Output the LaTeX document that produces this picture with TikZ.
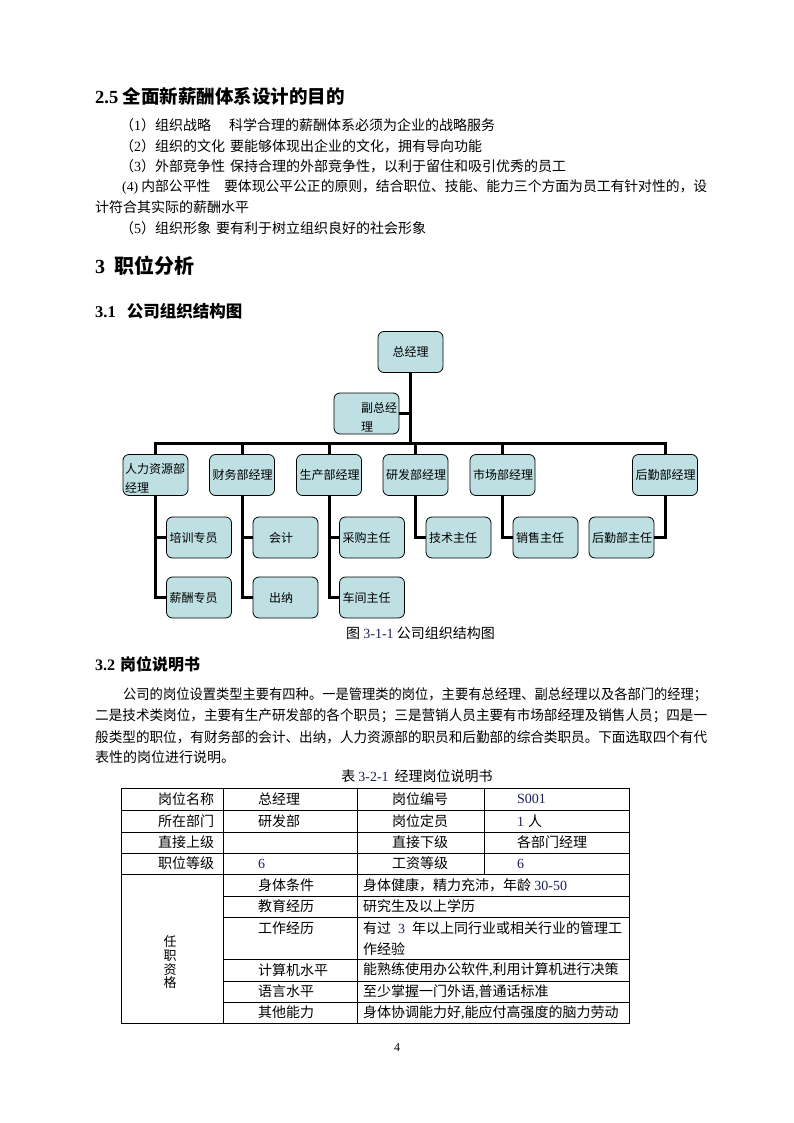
\documentclass[tikz,border=0pt]{standalone}
\usepackage{fontspec}
\usepackage{graphicx}
\setmainfont{Liberation Serif}
\newfontfamily\cjk{Noto Sans CJK SC}
\definecolor{boxfill}{RGB}{190,224,227}
\definecolor{numc}{RGB}{28,32,90}
\newcommand\fs[1]{\fontsize{#1}{#1}\selectfont}
\newcommand\tm[1]{{\rmfamily #1}}
\newcommand\nm[1]{{\rmfamily\color{numc}#1}}
\newcommand\fitw[2]{\resizebox{#1}{\height}{#2}}
\begin{document}
\begin{tikzpicture}[x=1pt,y=-1pt,
  txt/.style={anchor=west, inner sep=0pt, font=\cjk\fs{14}},
  orgbox/.style={draw, line width=0.8pt, fill=boxfill, rounded corners=6pt,
     minimum height=41pt, text width=59pt, inner xsep=3pt, inner ysep=0pt,
     align=left, font=\cjk\fs{12}},
  boxtxt/.style={anchor=west, inner sep=0pt, font=\cjk\fs{12}},
  conn/.style={line width=3pt, line join=miter},
  grid/.style={line width=0.8pt}]
\useasboundingbox (0,0) rectangle (794,1123);
\fill[white] (0,0) rectangle (794,1123);

% ---------- section 2.5 ----------
\node[txt, font=\cjk\bfseries\fs{18.5}] (h25) at (95,96) {\tm{\textbf{2.5}} 全面新薪酬体系设计的目的};
\node[txt] (p1) at (120,125) {（\tm{1}）组织战略\hspace{18pt}科学合理的薪酬体系必须为企业的战略服务};
\node[txt] (p2) at (120,146) {（\tm{2}）组织的文化\hspace{5pt}要能够体现出企业的文化，拥有导向功能};
\node[txt] (p3) at (120,166) {（\tm{3}）外部竞争性\hspace{5pt}保持合理的外部竞争性，以利于留住和吸引优秀的员工};
\node[txt] (p4) at (122,187) {\fitw{585pt}{\tm{(4)} 内部公平性\hspace{14pt}要体现公平公正的原则，结合职位、技能、能力三个方面为员工有针对性的，设}};
\node[txt] (p4b) at (95,207) {计符合其实际的薪酬水平};
\node[txt] (p5) at (120,228) {（\tm{5}）组织形象\hspace{5pt}要有利于树立组织良好的社会形象};

% ---------- section 3 ----------
\node[txt, font=\cjk\bfseries\fs{20}] (h3) at (95,266) {\tm{\textbf{3}}\hspace{9pt}职位分析};
\node[txt, font=\cjk\bfseries\fs{16.5}] (h31) at (95,311) {\tm{\textbf{3.1}}\hspace{11pt}公司组织结构图};

% ---------- org chart ----------
\node[orgbox, align=center] (zjl) at (410.5,352) {总经理};
\node[orgbox] (fz) at (366.5,413.5) {};
\node[boxtxt] (fzt1) at (361,408) {副总经};
\node[boxtxt] (fzt2) at (361,427) {理};

\node[orgbox] (rl) at (155.5,475) {};
\node[boxtxt] (rlt1) at (125,469) {人力资源部};
\node[boxtxt] (rlt2) at (125,488) {经理};
\node[orgbox] (cw) at (242,475) {财务部经理};
\node[orgbox] (sc) at (329,475) {生产部经理};
\node[orgbox] (yf) at (415.5,475) {研发部经理};
\node[orgbox] (scb) at (502.5,475) {市场部经理};
\node[orgbox] (hq) at (665,475) {后勤部经理};

\node[orgbox] (px) at (199,537.5) {培训专员};
\node[orgbox] (xc) at (199,597.5) {薪酬专员};
\node[orgbox] (kj) at (285.5,537.5) {\hspace*{13pt}会计};
\node[orgbox] (cn) at (285.5,597.5) {\hspace*{13pt}出纳};
\node[orgbox] (cg) at (372,537.5) {采购主任};
\node[orgbox] (cj) at (372,597.5) {车间主任};
\node[orgbox] (js) at (458.5,537.5) {技术主任};
\node[orgbox] (xs) at (545.5,537.5) {销售主任};
\node[orgbox] (hqz) at (621.5,537.5) {后勤部主任};

\coordinate (bus) at (410.5,443);
\draw[conn] (zjl.south) -- (bus);
\draw[conn] (fz.east) -- (fz.east -| bus);
\draw[conn] (rl.north) -- (rl.north |- bus) -- (hq.north |- bus) -- (hq.north);
\draw[conn] (cw.north) -- (cw.north |- bus);
\draw[conn] (sc.north) -- (sc.north |- bus);
\draw[conn] (yf.north) -- (yf.north |- bus);
\draw[conn] (scb.north) -- (scb.north |- bus);
\draw[conn] (rl.south) |- (px.west);
\draw[conn] (rl.south) |- (xc.west);
\draw[conn] (cw.south) |- (kj.west);
\draw[conn] (cw.south) |- (cn.west);
\draw[conn] (sc.south) |- (cg.west);
\draw[conn] (sc.south) |- (cj.west);
\draw[conn] (yf.south) |- (js.west);
\draw[conn] (scb.south) |- (xs.west);
\draw[conn] (hq.south) |- (hqz.east);

\node[txt] (cap1) at (346,633) {图 \nm{3-1-1} 公司组织结构图};

% ---------- section 3.2 ----------
\node[txt, font=\cjk\bfseries\fs{16}] (h32) at (95,664) {\tm{\textbf{3.2}}\hspace{5pt}岗位说明书};
\node[txt] (q1) at (123,695) {\fitw{584pt}{公司的岗位设置类型主要有四种。一是管理类的岗位，主要有总经理、副总经理以及各部门的经理；}};
\node[txt] (q2) at (95,716) {\fitw{612pt}{二是技术类岗位，主要有生产研发部的各个职员；三是营销人员主要有市场部经理及销售人员；四是一}};
\node[txt] (q3) at (95,737) {\fitw{612pt}{般类型的职位，有财务部的会计、出纳，人力资源部的职员和后勤部的综合类职员。下面选取四个有代}};
\node[txt] (q4) at (95,757) {表性的岗位进行说明。};

\node[txt, anchor=center] (cap2) at (417,776) {表 \nm{3-2-1}\hspace{6pt}经理岗位说明书};

% ---------- table ----------
\draw[grid] (121,788) rectangle (629,1023);
\foreach \yy in {810,832,853,874} \draw[grid] (121,\yy) -- (629,\yy);
\foreach \yy in {896,917,959,981,1002} \draw[grid] (223,\yy) -- (629,\yy);
\draw[grid] (223,788) -- (223,1023);
\draw[grid] (357,788) -- (357,1023);
\draw[grid] (484,788) -- (484,874);

\node[txt] (t11) at (158,799) {岗位名称};
\node[txt] (t12) at (258,799) {总经理};
\node[txt] (t13) at (392,799) {岗位编号};
\node[txt] (t14) at (517,799) {\nm{S001}};
\node[txt] (t21) at (158,821) {所在部门};
\node[txt] (t22) at (258,821) {研发部};
\node[txt] (t23) at (392,821) {岗位定员};
\node[txt] (t24) at (517,821) {\nm{1}\hspace{4pt}人};
\node[txt] (t31) at (158,842.5) {直接上级};
\node[txt] (t33) at (392,842.5) {直接下级};
\node[txt] (t34) at (517,842.5) {各部门经理};
\node[txt] (t41) at (158,863.5) {职位等级};
\node[txt] (t42) at (258,863.5) {\nm{6}};
\node[txt] (t43) at (392,863.5) {工资等级};
\node[txt] (t44) at (517,863.5) {\nm{6}};

\node[font=\cjk\fontsize{13}{13.7}\selectfont, align=center, inner sep=0pt] (rz) at (170,962.5) {任\\职\\资\\格};

\node[txt] (t52) at (258,885) {身体条件};
\node[txt] (t53) at (363,885) {身体健康，精力充沛，年龄 \nm{30-50}};
\node[txt] (t62) at (258,906.5) {教育经历};
\node[txt] (t63) at (363,906.5) {研究生及以上学历};
\node[txt] (t72) at (258,928) {工作经历};
\node[txt] (t73) at (363,928) {有过\hspace{7pt}\nm{3}\hspace{7pt}年以上同行业或相关行业的管理工};
\node[txt] (t73b) at (363,949) {作经验};
\node[txt] (t82) at (258,970) {计算机水平};
\node[txt] (t83) at (363,970) {能熟练使用办公软件\tm{,}利用计算机进行决策};
\node[txt] (t92) at (258,991.5) {语言水平};
\node[txt] (t93) at (363,991.5) {至少掌握一门外语\tm{,}普通话标准};
\node[txt] (t102) at (258,1012.5) {其他能力};
\node[txt] (t103) at (363,1012.5) {身体协调能力好\tm{,}能应付高强度的脑力劳动};

\node[anchor=center, inner sep=0pt, font=\rmfamily\fs{12}] (pg) at (397,1048) {4};
\end{tikzpicture}
\end{document}
